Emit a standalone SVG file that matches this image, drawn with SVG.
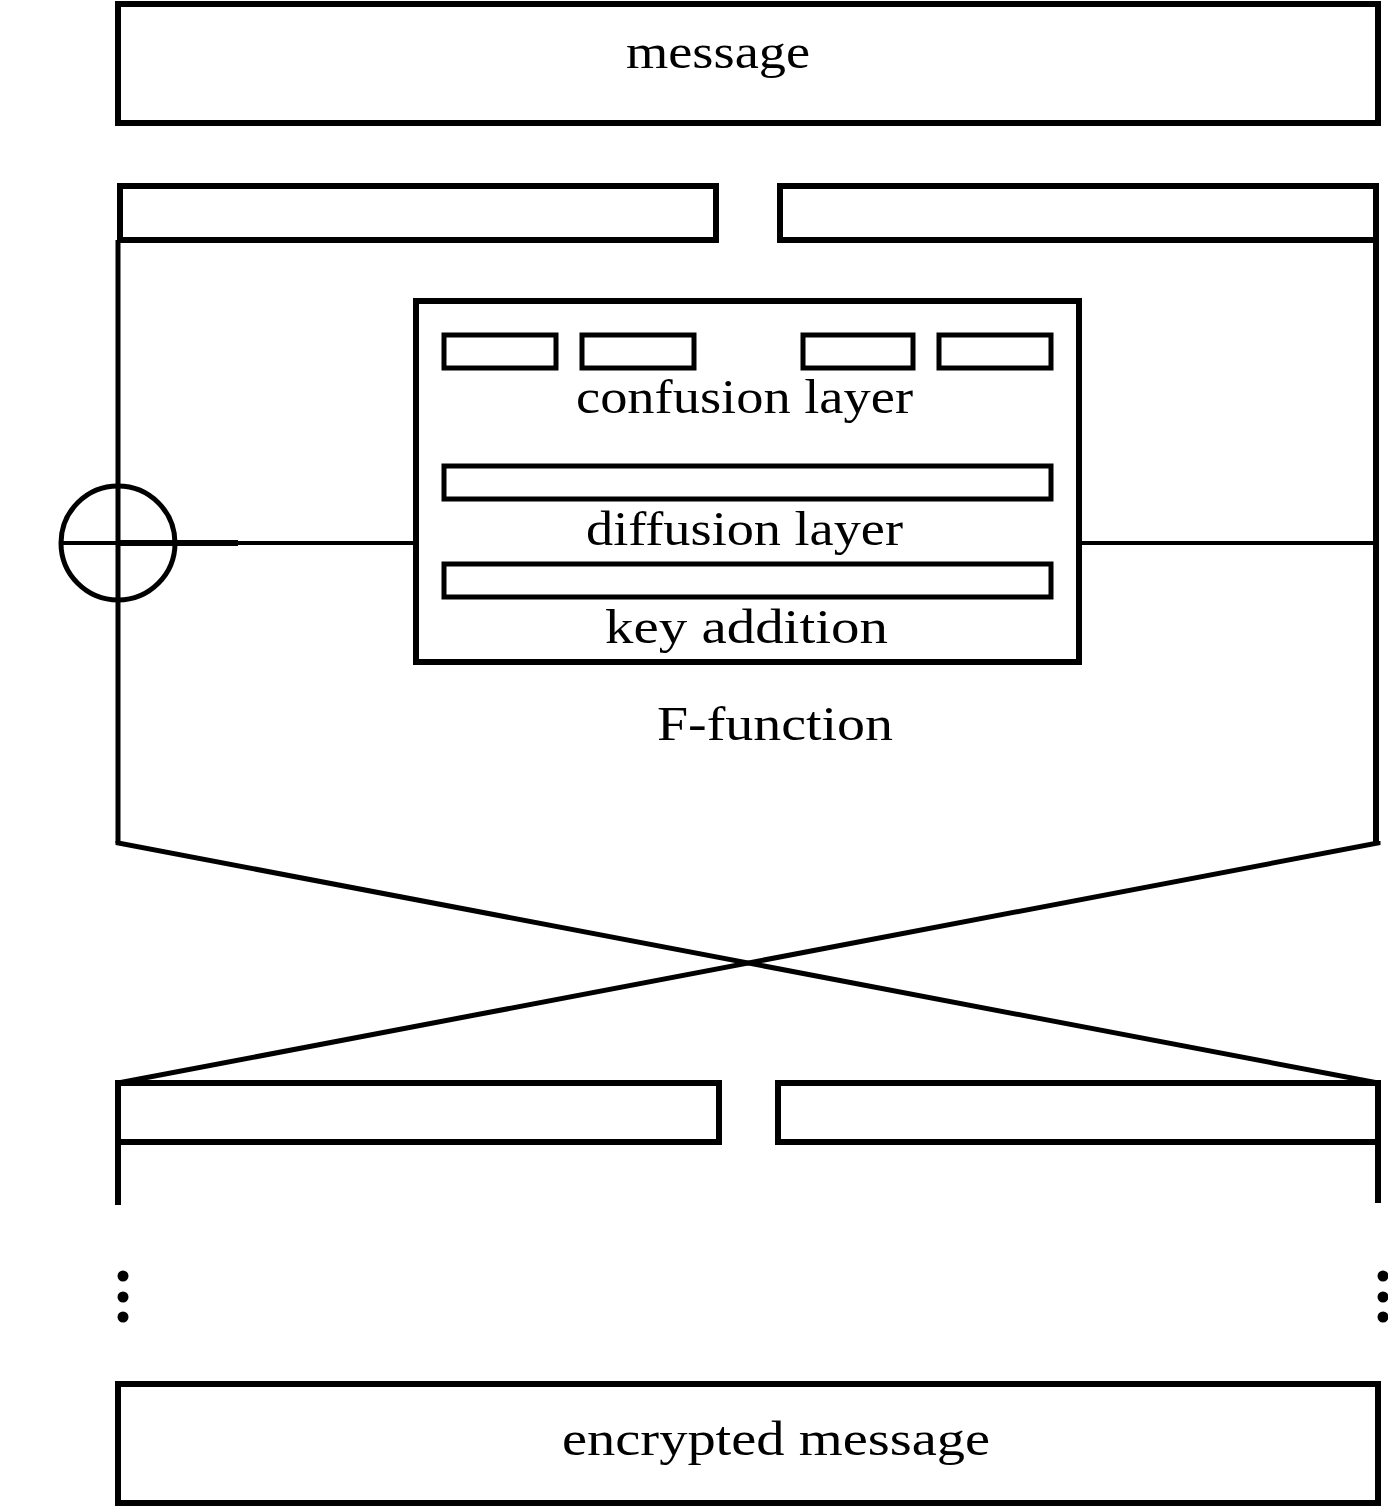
<svg xmlns="http://www.w3.org/2000/svg" width="1388" height="1506" viewBox="0 0 1388 1506">
<style>
.b{fill:none;stroke:#000;stroke-width:6}
.m{fill:none;stroke:#000;stroke-width:5}
.t{fill:none;stroke:#000;stroke-width:4}
text{font-family:"Liberation Serif","DejaVu Serif",serif;font-size:48px;fill:#000}
</style>
<rect width="1388" height="1506" fill="#fff"/>
<g id="message"><rect class="b" x="118" y="4" width="1260" height="119"/><text x="626" y="68" textLength="184" lengthAdjust="spacingAndGlyphs">message</text></g>
<g id="left-half-top"><rect class="b" x="120" y="186" width="596" height="54"/></g>
<g id="right-half-top"><rect class="b" x="780" y="186" width="596" height="54"/></g>
<g id="f-function">
<rect class="b" x="416" y="301" width="663" height="361"/>
<rect class="m" x="444" y="335" width="112" height="33"/>
<rect class="m" x="582" y="335" width="112" height="33"/>
<rect class="m" x="803" y="335" width="110" height="33"/>
<rect class="m" x="939" y="335" width="112" height="33"/>
<text x="576" y="413" textLength="337" lengthAdjust="spacingAndGlyphs">confusion layer</text>
<rect class="m" x="444" y="466" width="607" height="33"/>
<text x="586" y="545" textLength="317" lengthAdjust="spacingAndGlyphs">diffusion layer</text>
<rect class="m" x="444" y="564" width="607" height="33"/>
<text x="605" y="643" textLength="283" lengthAdjust="spacingAndGlyphs">key addition</text>
<text x="657" y="740" textLength="236" lengthAdjust="spacingAndGlyphs">F-function</text>
</g>
<g id="xor"><circle class="m" cx="118" cy="543" r="57"/></g>
<g id="left-half-bottom"><rect class="b" x="118" y="1083" width="601" height="59"/></g>
<g id="right-half-bottom"><rect class="b" x="778" y="1083" width="600" height="59"/></g>
<g id="encrypted"><rect class="b" x="118" y="1384" width="1260" height="119"/><text x="562" y="1455" textLength="428" lengthAdjust="spacingAndGlyphs">encrypted message</text></g>
<g id="connectors">
<line class="m" x1="118" y1="240" x2="118" y2="843"/>
<line class="b" x1="1376" y1="240" x2="1376" y2="843"/>
<line class="t" x1="61" y1="543" x2="175" y2="543"/>
<line class="b" x1="118" y1="543" x2="238" y2="543"/>
<line class="t" x1="238" y1="543" x2="416" y2="543"/>
<line class="t" x1="1080" y1="543" x2="1376" y2="543"/>
<polyline class="m" points="118,841 118,843 1378,1083"/>
<polyline class="m" points="1378,841 1378,843 118,1083"/>
<line class="b" x1="118" y1="1142" x2="118" y2="1205"/>
<line class="b" x1="1378" y1="1142" x2="1378" y2="1203"/>
<g fill="#000"><circle cx="123" cy="1276" r="5.5"/><circle cx="123" cy="1297" r="5.5"/><circle cx="123" cy="1317" r="5.5"/>
<circle cx="1383" cy="1276" r="5.5"/><circle cx="1383" cy="1297" r="5.5"/><circle cx="1383" cy="1317" r="5.5"/></g>
</g>
</svg>
